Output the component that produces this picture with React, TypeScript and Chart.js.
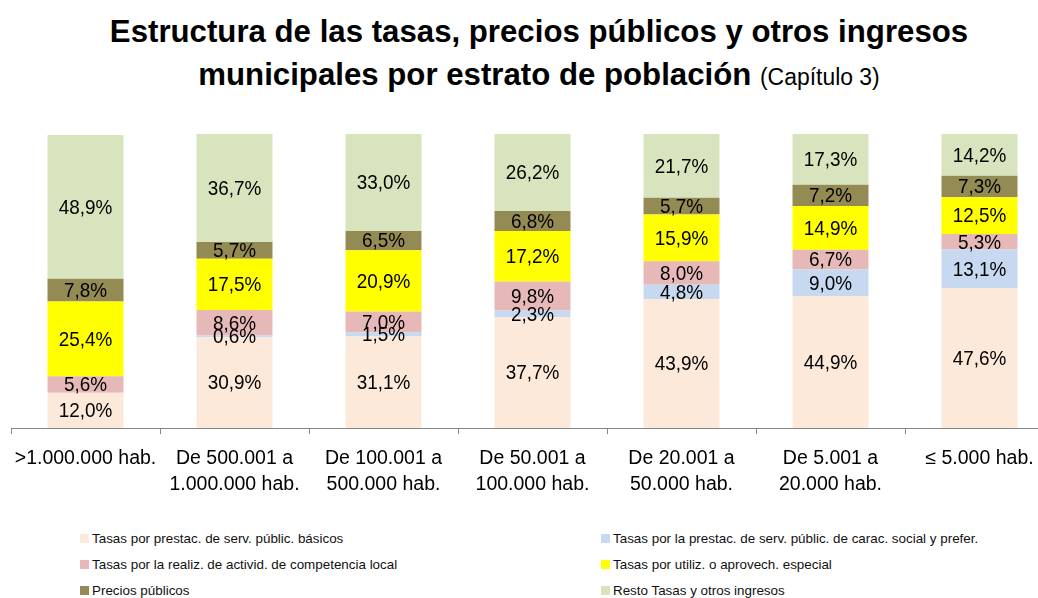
import React, { useEffect, useRef } from "react";
import { Chart, registerables } from "chart.js";

Chart.register(...registerables);

const FONT = '"Liberation Sans", Arial, Helvetica, sans-serif';

const categories: (string | string[])[] = [
  ">1.000.000 hab.",
  ["De 500.001 a", "1.000.000 hab."],
  ["De 100.001 a", "500.000 hab."],
  ["De 50.001 a", "100.000 hab."],
  ["De 20.001 a", "50.000 hab."],
  ["De 5.001 a", "20.000 hab."],
  "≤ 5.000 hab.",
];

const seriesNames = [
  "Tasas por prestac. de serv. públic. básicos",
  "Tasas por la prestac. de serv. públic. de carac. social y prefer.",
  "Tasas por la realiz. de activid. de competencia local",
  "Tasas por utiliz. o aprovech. especial",
  "Precios públicos",
  "Resto Tasas y otros ingresos",
];

const seriesColors = ["#FDE9D9", "#C6D9F1", "#E6B9B8", "#FFFF00", "#948A54", "#D7E4BD"];

const basicos = [12.0, 30.9, 31.1, 37.7, 43.9, 44.9, 47.6];
const social = [0, 0.6, 1.5, 2.3, 4.8, 9.0, 13.1];
const competencia = [5.6, 8.6, 7.0, 9.8, 8.0, 6.7, 5.3];
const aprovechamiento = [25.4, 17.5, 20.9, 17.2, 15.9, 14.9, 12.5];
const precios = [7.8, 5.7, 6.5, 6.8, 5.7, 7.2, 7.3];
const resto = [48.9, 36.7, 33.0, 26.2, 21.7, 17.3, 14.2];

const seriesValues = [basicos, social, competencia, aprovechamiento, precios, resto];

const fmt = (v: number) => v.toFixed(1).replace(".", ",") + "%";

const segmentLabels = {
  id: "segmentLabels",
  afterDatasetsDraw(chart: any) {
    const ctx = chart.ctx;
    chart.data.datasets.forEach((ds: any, i: number) => {
      const meta = chart.getDatasetMeta(i);
      meta.data.forEach((el: any, j: number) => {
        const v = ds.data[j];
        if (!v) return;
        const { x, y, base } = el.getProps(["x", "y", "base"], true);
        ctx.save();
        ctx.font = `21px ${FONT}`;
        ctx.fillStyle = "#000";
        ctx.textAlign = "center";
        ctx.textBaseline = "middle";
        ctx.translate(x, (y + base) / 2 + 1);
        ctx.scale(0.9, 1);
        ctx.fillText(fmt(v), 0, 0);
        ctx.restore();
      });
    });
  },
};

export default function App() {
  const ref = useRef<HTMLCanvasElement | null>(null);

  useEffect(() => {
    if (!ref.current) return;
    const chart = new Chart(ref.current, {
      type: "bar",
      data: {
        labels: categories as any,
        datasets: seriesNames.map((name, i) => ({
          label: name,
          data: seriesValues[i],
          backgroundColor: seriesColors[i],
          borderWidth: 0,
          categoryPercentage: 1,
          barPercentage: 0.51,
        })),
      },
      options: {
        responsive: false,
        animation: false,
        devicePixelRatio: 1,
        layout: { padding: { left: 11, right: 26, top: 14, bottom: 0 } },
        plugins: {
          legend: { display: false },
          title: { display: false },
          tooltip: { enabled: false },
        },
        scales: {
          x: {
            stacked: true,
            grid: {
              display: true,
              drawOnChartArea: false,
              drawTicks: true,
              tickLength: 6,
              offset: true,
              color: "#868686",
              lineWidth: 1,
            },
            border: { display: true, color: "#868686", width: 1 },
            ticks: {
              color: "#000",
              font: { family: FONT, size: 19.5, lineHeight: 1.35 },
              padding: 11,
              maxRotation: 0,
              minRotation: 0,
              autoSkip: false,
            },
            afterFit: (scale: any) => {
              scale.height = 72;
            },
          },
          y: {
            stacked: true,
            display: false,
            min: 0,
            max: 100,
          },
        },
      },
      plugins: [segmentLabels],
    });
    return () => chart.destroy();
  }, []);

  const legendRows = [0, 1, 2];
  const rowCenters = [538, 564, 590];

  return (
    <div
      style={{
        position: "fixed",
        left: 0,
        top: 0,
        width: 1038,
        height: 598,
        overflow: "hidden",
        background: "#fff",
        fontFamily: FONT,
      }}
    >
      <div
        style={{
          position: "absolute",
          left: 0,
          top: 10,
          width: 1078,
          textAlign: "center",
          fontWeight: "bold",
          fontSize: 32,
          lineHeight: "43px",
          color: "#000",
          transform: "scaleX(0.975)",
          transformOrigin: "539px 0",
          whiteSpace: "nowrap",
        }}
      >
        <div>Estructura de las tasas, precios públicos y otros ingresos</div>
        <div>
          municipales por estrato de población{" "}
          <span style={{ fontWeight: "normal", fontSize: 23.5 }}>(Capítulo 3)</span>
        </div>
      </div>
      <canvas
        ref={ref}
        width={1080}
        height={380}
        style={{ position: "absolute", left: 0, top: 120, width: 1080, height: 380 }}
      />
      {legendRows.map((r) =>
        [0, 1].map((c) => {
          const i = r * 2 + c;
          const left = c === 0 ? 80 : 601;
          return (
            <div
              key={i}
              style={{
                position: "absolute",
                left,
                top: rowCenters[r] - 8,
                height: 16,
                display: "flex",
                alignItems: "center",
                fontSize: 13.4,
                color: "#111",
                whiteSpace: "nowrap",
              }}
            >
              <span
                style={{
                  display: "inline-block",
                  width: 9,
                  height: 9,
                  background: seriesColors[i],
                  marginRight: 3,
                }}
              />
              <span>{seriesNames[i]}</span>
            </div>
          );
        })
      )}
    </div>
  );
}
